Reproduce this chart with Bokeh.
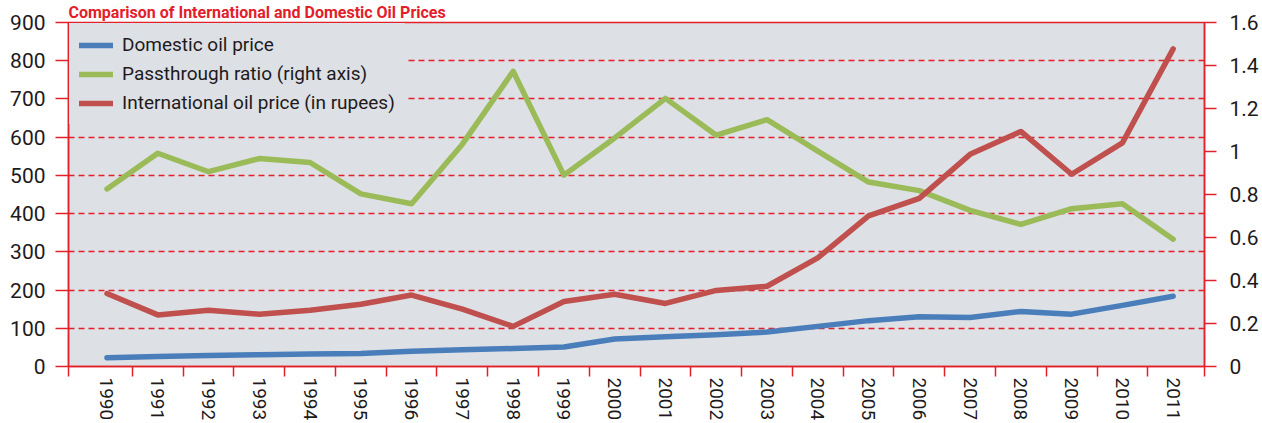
from bokeh.plotting import figure
from bokeh.models import (Range1d, LinearAxis, FixedTicker, NumeralTickFormatter,
                          Legend, LegendItem)
from bokeh.embed import file_html
from bokeh.resources import INLINE

# ---- data ----
years = list(range(1990, 2012))
domestic = [23, 26, 29, 31, 33, 34, 40, 44, 47, 51, 72, 78, 83, 90, 105, 120, 130, 128, 144, 137, 160, 184]
international = [191, 135, 147, 137, 147, 163, 187, 150, 105, 170, 189, 165, 199, 210, 284, 394, 440, 555, 615, 503, 585, 831]
passthrough = [0.826, 0.992, 0.906, 0.967, 0.949, 0.803, 0.757, 1.034, 1.373, 0.890, 1.063, 1.247,
               1.076, 1.148, 1.002, 0.858, 0.818, 0.726, 0.661, 0.734, 0.757, 0.592]
left_ticks = [0, 100, 200, 300, 400, 500, 600, 700, 800, 900]
grid_ticks = [100, 200, 300, 400, 500, 600, 700, 800]
right_ticks = [0, 0.2, 0.4, 0.6, 0.8, 1.0, 1.2, 1.4, 1.6]
series_names = ["Domestic oil price", "Passthrough ratio (right axis)", "International oil price (in rupees)"]
title_text = "Comparison of International and Domestic Oil Prices"

RED = "#e2202a"
BLUE = "#4a7ebb"
GREEN = "#9bbb59"
DRED = "#c0504d"
BG = "#dde0e5"
TXT = "#1e1a1b"
FONT = "Roboto"

x_lo, x_hi = 1989.242, 2011.617

p = figure(width=1262, height=423, x_range=Range1d(x_lo, x_hi), y_range=Range1d(0, 900),
           output_backend="svg", toolbar_location=None,
           min_border_left=68, min_border_right=58, min_border_top=20, min_border_bottom=55,
           background_fill_color=BG, border_fill_color="white",
           outline_line_color=RED, outline_line_width=1.5)
p.extra_y_ranges = {"right": Range1d(0, 1.6)}

p.title.text = title_text
p.title.text_font = FONT
p.title.text_font_size = "16px"
p.title.text_font_style = "bold"
p.title.text_color = RED
p.title.align = "left"
p.title.offset = 0
p.title.standoff = 1

# x axis: labels at the years, tick marks between categories
minor = [x_lo + 0.005] + [y + 0.5 for y in years[:-1]] + [x_hi - 0.005]
xa = p.xaxis[0]
xa.ticker = FixedTicker(ticks=years, minor_ticks=minor)
xa.major_tick_in = 0
xa.major_tick_out = 0
xa.minor_tick_in = 0
xa.minor_tick_out = 10
xa.minor_tick_line_color = RED
xa.minor_tick_line_width = 1.5
xa.axis_line_color = RED
xa.axis_line_width = 1.5
xa.major_label_orientation = "vertical"
xa.major_label_standoff = 1
xa.major_label_text_font = FONT
xa.major_label_text_font_size = "19px"
xa.major_label_text_color = TXT

# left axis
ya = p.yaxis[0]
ya.ticker = FixedTicker(ticks=left_ticks)
ya.major_tick_in = 0
ya.major_tick_out = 13
ya.minor_tick_line_color = None
ya.major_tick_line_color = RED
ya.major_tick_line_width = 1.5
ya.axis_line_color = RED
ya.axis_line_width = 1.5
ya.major_label_standoff = 10
ya.major_label_text_font = FONT
ya.major_label_text_font_size = "21px"
ya.major_label_text_color = TXT

# right axis
ra = LinearAxis(y_range_name="right", ticker=FixedTicker(ticks=right_ticks),
                formatter=NumeralTickFormatter(format="0.[0]"))
ra.major_tick_in = 0
ra.major_tick_out = 12
ra.minor_tick_line_color = None
ra.major_tick_line_color = RED
ra.major_tick_line_width = 1.5
ra.axis_line_color = RED
ra.axis_line_width = 1.5
ra.major_label_standoff = 13
ra.major_label_text_font = FONT
ra.major_label_text_font_size = "21px"
ra.major_label_text_color = TXT
p.add_layout(ra, "right")

# grid
p.xgrid.visible = False
p.ygrid.ticker = FixedTicker(ticks=grid_ticks)
p.ygrid.grid_line_color = RED
p.ygrid.grid_line_width = 1.3
p.ygrid.grid_line_dash = "6 4"

# lines
r_green = p.line(years, passthrough, y_range_name="right", line_color=GREEN, line_width=5.5,
                 line_cap="round", line_join="round")
r_red = p.line(years, international, line_color=DRED, line_width=5.5,
               line_cap="round", line_join="round")
r_blue = p.line(years, domestic, line_color=BLUE, line_width=5.5,
                line_cap="round", line_join="round")

legend = Legend(items=[LegendItem(label=series_names[0], renderers=[r_blue]),
                       LegendItem(label=series_names[1], renderers=[r_green]),
                       LegendItem(label=series_names[2], renderers=[r_red])],
                location="top_left", margin=1, padding=10, spacing=6,
                glyph_width=34, glyph_height=20, label_height=20, label_standoff=9,
                background_fill_color=BG, background_fill_alpha=1.0,
                border_line_alpha=0,
                label_text_font=FONT, label_text_font_size="19px", label_text_color=TXT)
p.add_layout(legend)

open("out.html", "w").write(file_html(p, INLINE))
